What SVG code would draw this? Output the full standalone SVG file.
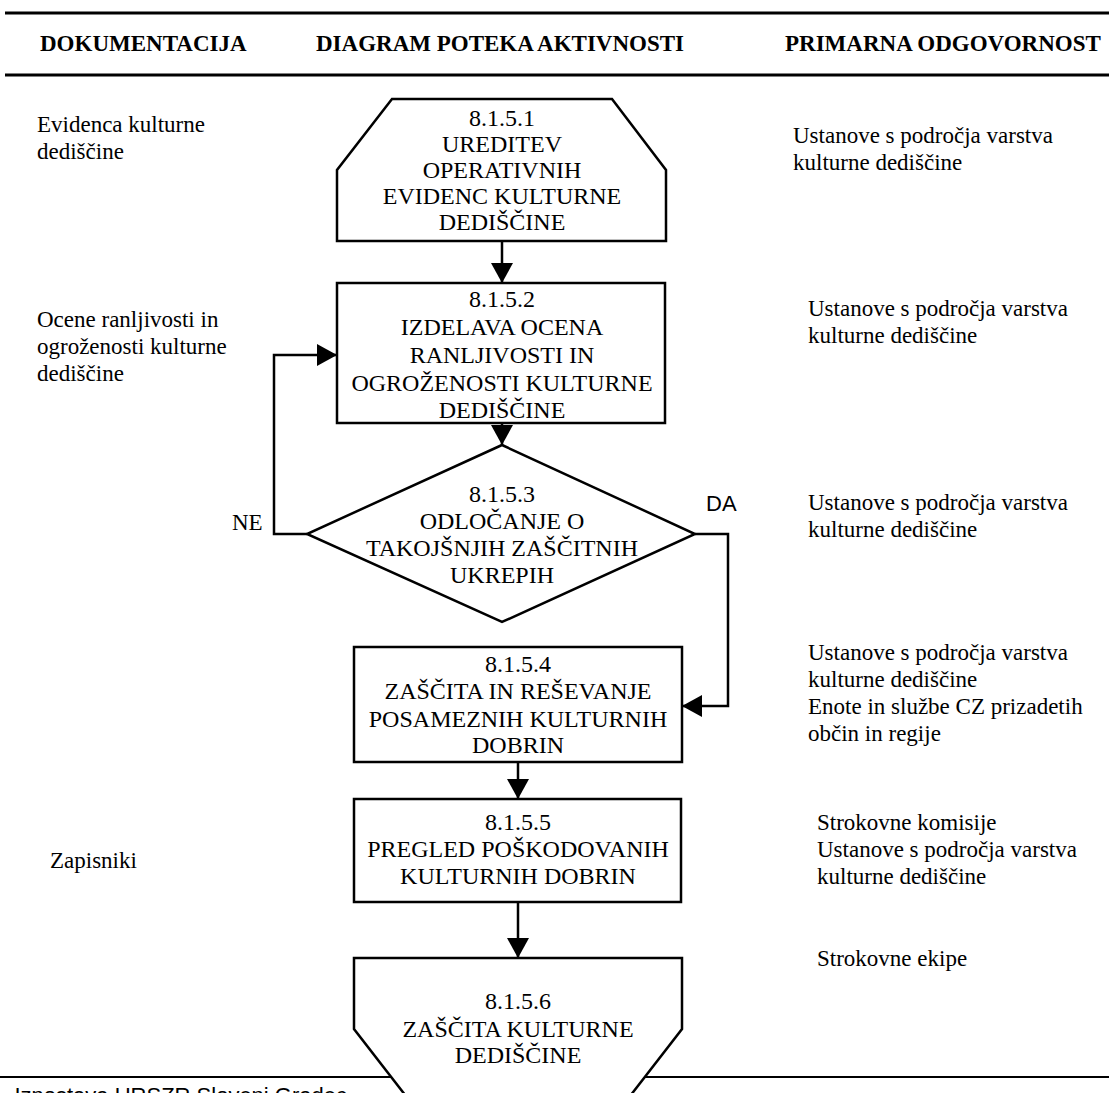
<svg xmlns="http://www.w3.org/2000/svg" width="1109" height="1093" viewBox="0 0 1109 1093">
<style>
.hd{font-family:"Liberation Serif","Times New Roman",serif;font-weight:bold;font-size:23px;fill:#000}
.tx{font-family:"Liberation Serif","Times New Roman",serif;font-size:23px;fill:#000}
.nt{font-family:"Liberation Serif","Times New Roman",serif;font-size:24px;fill:#000;text-anchor:middle}
.ar{font-family:"Liberation Sans",Arial,sans-serif;font-size:22px;fill:#000}
.shape{fill:#fff;stroke:#000;stroke-width:2.5}
.conn{fill:none;stroke:#000;stroke-width:2.5}
.rule{stroke:#000;stroke-width:3}
</style>
<defs>
<marker id="arr" markerUnits="userSpaceOnUse" markerWidth="20" markerHeight="22" refX="20" refY="11" orient="auto" viewBox="0 0 20 22">
<path d="M0,0 L20,11 L0,22 z" fill="#000"/>
</marker>
</defs>
<rect width="1109" height="1093" fill="#fff"/>

<g id="header">
<line class="rule" x1="5" y1="13" x2="1109" y2="13"/>
<line class="rule" x1="5" y1="75" x2="1109" y2="75"/>
<text class="hd" x="40" y="51">DOKUMENTACIJA</text>
<text class="hd" x="316" y="51">DIAGRAM POTEKA AKTIVNOSTI</text>
<text class="hd" x="785" y="51">PRIMARNA ODGOVORNOST</text>
</g>

<g id="footer">
<line x1="0" y1="1077" x2="1109" y2="1077" stroke="#000" stroke-width="2"/>
<text class="ar" x="347" y="1103" text-anchor="end" font-size="24">Izpostava URSZR Slovenj Gradec</text>
</g>

<g id="documentation">
<text class="tx" x="37"><tspan x="37" y="132">Evidenca kulturne</tspan><tspan x="37" y="159">dediščine</tspan></text>
<text class="tx" x="37"><tspan x="37" y="327">Ocene ranljivosti in</tspan><tspan x="37" y="354">ogroženosti kulturne</tspan><tspan x="37" y="381">dediščine</tspan></text>
<text class="tx" x="50" y="868">Zapisniki</text>
</g>

<g id="responsibility">
<text class="tx"><tspan x="793" y="143">Ustanove s področja varstva</tspan><tspan x="793" y="170">kulturne dediščine</tspan></text>
<text class="tx"><tspan x="808" y="316">Ustanove s področja varstva</tspan><tspan x="808" y="343">kulturne dediščine</tspan></text>
<text class="tx"><tspan x="808" y="510">Ustanove s področja varstva</tspan><tspan x="808" y="537">kulturne dediščine</tspan></text>
<text class="tx"><tspan x="808" y="660">Ustanove s področja varstva</tspan><tspan x="808" y="687">kulturne dediščine</tspan><tspan x="808" y="714">Enote in službe CZ prizadetih</tspan><tspan x="808" y="741">občin in regije</tspan></text>
<text class="tx"><tspan x="817" y="830">Strokovne komisije</tspan><tspan x="817" y="857">Ustanove s področja varstva</tspan><tspan x="817" y="884">kulturne dediščine</tspan></text>
<text class="tx" x="817" y="966">Strokovne ekipe</text>
</g>

<g id="connectors">
<path class="conn" d="M502,241 V283" marker-end="url(#arr)"/>
<path class="conn" d="M502,423 V445" marker-end="url(#arr)"/>
<path class="conn" d="M307,534 H274 V355 H337" marker-end="url(#arr)"/>
<path class="conn" d="M695,534 H728 V706 H682" marker-end="url(#arr)"/>
<path class="conn" d="M518,762 V799" marker-end="url(#arr)"/>
<path class="conn" d="M518,902 V958" marker-end="url(#arr)"/>
<text class="tx" x="232" y="530">NE</text>
<text class="ar" x="706" y="511">DA</text>
</g>

<g id="n8151">
<path class="shape" d="M392,99 H612 L666,170 V241 H337 V170 Z"/>
<text class="nt"><tspan x="502" y="126">8.1.5.1</tspan><tspan x="502" y="152">UREDITEV</tspan><tspan x="502" y="178">OPERATIVNIH</tspan><tspan x="502" y="204">EVIDENC KULTURNE</tspan><tspan x="502" y="230">DEDIŠČINE</tspan></text>
</g>

<g id="n8152">
<rect class="shape" x="337" y="283" width="328" height="140"/>
<text class="nt"><tspan x="502" y="307">8.1.5.2</tspan><tspan x="502" y="335">IZDELAVA OCENA</tspan><tspan x="502" y="363">RANLJIVOSTI IN</tspan><tspan x="502" y="391">OGROŽENOSTI KULTURNE</tspan><tspan x="502" y="418">DEDIŠČINE</tspan></text>
</g>

<g id="n8153">
<path class="shape" d="M502,445 L695,534 L502,622 L307,534 Z"/>
<text class="nt"><tspan x="502" y="502">8.1.5.3</tspan><tspan x="502" y="529">ODLOČANJE O</tspan><tspan x="502" y="556">TAKOJŠNJIH ZAŠČITNIH</tspan><tspan x="502" y="583">UKREPIH</tspan></text>
</g>

<g id="n8154">
<rect class="shape" x="354" y="647" width="328" height="115"/>
<text class="nt"><tspan x="518" y="672">8.1.5.4</tspan><tspan x="518" y="699">ZAŠČITA IN REŠEVANJE</tspan><tspan x="518" y="727">POSAMEZNIH KULTURNIH</tspan><tspan x="518" y="753">DOBRIN</tspan></text>
</g>

<g id="n8155">
<rect class="shape" x="354" y="799" width="327" height="103"/>
<text class="nt"><tspan x="518" y="830">8.1.5.5</tspan><tspan x="518" y="857">PREGLED POŠKODOVANIH</tspan><tspan x="518" y="884">KULTURNIH DOBRIN</tspan></text>
</g>

<g id="n8156">
<path class="shape" d="M354,958 H682 V1029 L627,1100 H409 L354,1029 Z"/>
<text class="nt"><tspan x="518" y="1009">8.1.5.6</tspan><tspan x="518" y="1037">ZAŠČITA KULTURNE</tspan><tspan x="518" y="1063">DEDIŠČINE</tspan></text>
</g>
</svg>
